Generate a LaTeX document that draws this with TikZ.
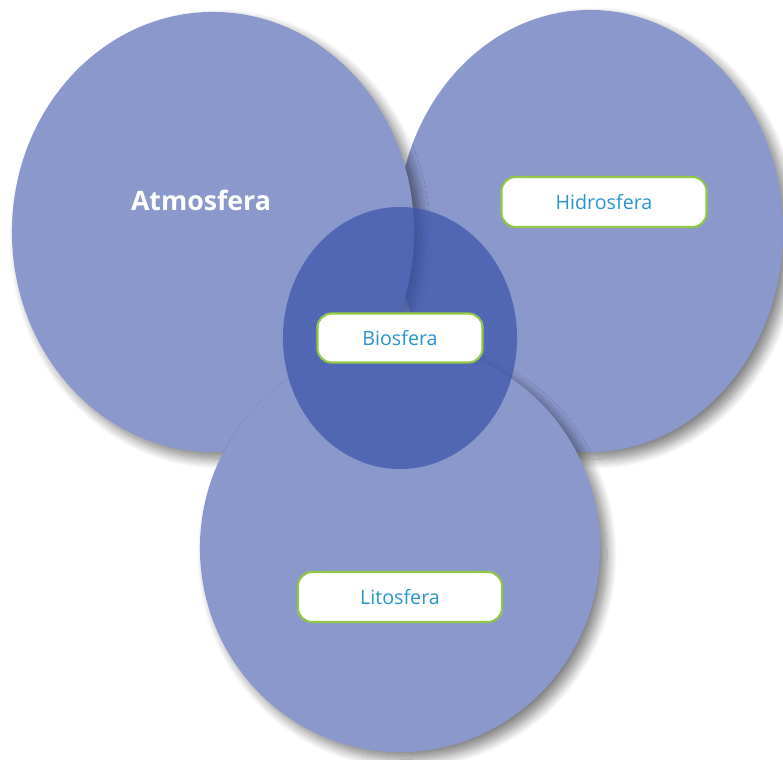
\documentclass[tikz,border=0pt]{standalone}
\usepackage{fontspec}
\setmainfont{Open Sans}
\usetikzlibrary{shapes.geometric, shadows.blur}

\definecolor{sphereblue}{RGB}{138,152,204}
\definecolor{biosblue}{RGB}{60,85,172}
\definecolor{labelblue}{RGB}{40,150,205}
\definecolor{labelgreen}{RGB}{145,200,70}

\tikzset{
  sphere/.style={ellipse, inner sep=0pt, fill=sphereblue,
    blur shadow={shadow xshift=5pt, shadow yshift=-5pt, shadow blur radius=7pt, shadow blur steps=12, shadow opacity=50}},
  spherelabel/.style={rectangle, rounded corners=10pt, draw=labelgreen, line width=1.5pt,
    fill=white, text=labelblue, font=\fontsize{14}{16}\selectfont, minimum height=1.25cm}
}

\begin{document}
\begin{tikzpicture}[x=0.025cm, y=-0.025cm]
\useasboundingbox (0,0) rectangle (783,760);

% the three spheres
\node[sphere, minimum width=9.65cm, minimum height=11.05cm] (hidro) at (590,231) {};
\node[sphere, minimum width=10.05cm, minimum height=11cm] (atmo) at (213,232) {};
\node[sphere, minimum width=10cm, minimum height=10.2cm] (lito) at (400,548) {};

% biosphere in the middle
\node[ellipse, inner sep=0pt, fill=biosblue, fill opacity=0.72, minimum width=5.85cm, minimum height=6.55cm] (bio) at (400,338) {};

% labels
\node[text=white, font=\fontsize{19}{23}\selectfont\bfseries] (atmolabel) at (201,200) {Atmosfera};
\node[spherelabel, minimum width=5.125cm] (hidrolabel) at (604,202) {Hidrosfera};
\node[spherelabel, minimum width=4.125cm, minimum height=1.225cm] (biolabel) at (400,338) {Biosfera};
\node[spherelabel, minimum width=5.1cm] (litolabel) at (400,597) {Litosfera};

\end{tikzpicture}
\end{document}
